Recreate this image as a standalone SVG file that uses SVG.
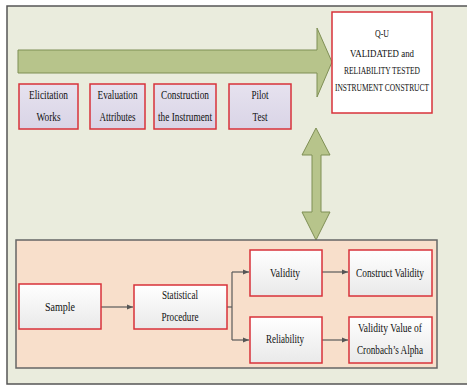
<svg xmlns="http://www.w3.org/2000/svg" width="467" height="386" viewBox="0 0 467 386">
<defs>
<linearGradient id="boxg" x1="0" y1="0" x2="0" y2="1">
<stop offset="0" stop-color="#ffffff"/>
<stop offset="1" stop-color="#e9e9e9"/>
</linearGradient>
<linearGradient id="lavg" x1="0" y1="0" x2="0" y2="1">
<stop offset="0" stop-color="#e6e2ef"/>
<stop offset="1" stop-color="#d9d4e6"/>
</linearGradient>
<marker id="ah" viewBox="0 0 6 6" refX="6" refY="3" markerWidth="6" markerHeight="6" markerUnits="userSpaceOnUse" orient="auto">
<path d="M0,0.5 L6,3 L0,5.5 Z" fill="#555"/>
</marker>
</defs>
<style>
text{font-family:"Liberation Serif","Times New Roman",serif;fill:#111;text-anchor:middle}
.lav{fill:url(#lavg);stroke:#d8323a;stroke-width:1.5}
.wb{fill:url(#boxg);stroke:#d8323a;stroke-width:1.5}
.big{fill:#b7c48b;stroke:#7f8f55;stroke-width:1}
.conn{fill:none;stroke:#5a5a5a;stroke-width:1.2}
.t10{font-size:10.5px}
.t12{font-size:13px}
</style>
<rect x="0" y="0" width="467" height="386" fill="#ffffff"/>
<rect x="7" y="6" width="470" height="378" fill="#eaecdd" stroke="#555" stroke-width="1.5"/>

<g id="big-arrow">
<path class="big" d="M18,50 L317,50 L317,28 L332,62 L317,97 L317,73 L18,73 Z"/>
</g>

<g id="qu-box">
<rect x="332" y="12" width="100" height="101" fill="#ffffff" stroke="#d8323a" stroke-width="1.5"/>
<text class="t10" x="382" y="37" textLength="14" lengthAdjust="spacingAndGlyphs">Q-U</text>
<text class="t10" x="382" y="57" textLength="64" lengthAdjust="spacingAndGlyphs">VALIDATED and</text>
<text class="t10" x="382" y="74" textLength="76" lengthAdjust="spacingAndGlyphs">RELIABILITY TESTED</text>
<text class="t10" x="382" y="91" textLength="94" lengthAdjust="spacingAndGlyphs">INSTRUMENT CONSTRUCT</text>
</g>

<g id="elicitation">
<rect class="lav" x="19" y="84" width="59" height="45"/>
<text class="t12" x="48.5" y="99" textLength="39" lengthAdjust="spacingAndGlyphs">Elicitation</text>
<text class="t12" x="48.5" y="121" textLength="24" lengthAdjust="spacingAndGlyphs">Works</text>
</g>
<g id="evaluation">
<rect class="lav" x="90" y="84" width="55" height="45"/>
<text class="t12" x="117.5" y="99" textLength="40" lengthAdjust="spacingAndGlyphs">Evaluation</text>
<text class="t12" x="117.5" y="121" textLength="36" lengthAdjust="spacingAndGlyphs">Attributes</text>
</g>
<g id="construction">
<rect class="lav" x="154" y="84" width="62" height="45"/>
<text class="t12" x="185" y="99" textLength="48" lengthAdjust="spacingAndGlyphs">Construction</text>
<text class="t12" x="185" y="121" textLength="54" lengthAdjust="spacingAndGlyphs">the Instrument</text>
</g>
<g id="pilot">
<rect class="lav" x="229" y="84" width="62" height="45"/>
<text class="t12" x="260" y="99" textLength="17" lengthAdjust="spacingAndGlyphs">Pilot</text>
<text class="t12" x="260" y="121" textLength="15" lengthAdjust="spacingAndGlyphs">Test</text>
</g>

<g id="double-arrow">
<path class="big" d="M316,128 L330,155 L321,155 L321,212 L330,212 L316,240 L302,212 L312,212 L312,155 L302,155 Z"/>
</g>

<g id="lower-panel">
<rect x="16" y="240" width="421" height="128" fill="#f8dfcb" stroke="#666" stroke-width="1.5"/>
</g>

<g id="connectors">
<path class="conn" d="M101,307 L133,307" marker-end="url(#ah)"/>
<path class="conn" d="M227,307 L232,307"/>
<path class="conn" d="M232,272 L232,340"/>
<path class="conn" d="M232,272 L249,272" marker-end="url(#ah)"/>
<path class="conn" d="M232,340 L249,340" marker-end="url(#ah)"/>
<path class="conn" d="M322,272 L348,272" marker-end="url(#ah)"/>
<path class="conn" d="M322,340 L348,340" marker-end="url(#ah)"/>
</g>

<g id="sample">
<rect class="wb" x="19" y="284" width="82" height="45"/>
<text class="t12" x="60" y="311" textLength="30" lengthAdjust="spacingAndGlyphs">Sample</text>
</g>
<g id="statistical">
<rect class="wb" x="134" y="285" width="93" height="44"/>
<text class="t12" x="180" y="299" textLength="36" lengthAdjust="spacingAndGlyphs">Statistical</text>
<text class="t12" x="180" y="321" textLength="37" lengthAdjust="spacingAndGlyphs">Procedure</text>
</g>
<g id="validity">
<rect class="wb" x="250" y="250" width="72" height="46"/>
<text class="t12" x="285" y="277" textLength="30" lengthAdjust="spacingAndGlyphs">Validity</text>
</g>
<g id="reliability">
<rect class="wb" x="250" y="317" width="72" height="46"/>
<text class="t12" x="285" y="343" textLength="38" lengthAdjust="spacingAndGlyphs">Reliability</text>
</g>
<g id="construct-validity">
<rect class="wb" x="349" y="250" width="83" height="46"/>
<text class="t12" x="390" y="277" textLength="68" lengthAdjust="spacingAndGlyphs">Construct Validity</text>
</g>
<g id="validity-value">
<rect class="wb" x="349" y="317" width="83" height="46"/>
<text class="t12" x="390" y="332" textLength="64" lengthAdjust="spacingAndGlyphs">Validity Value of</text>
<text class="t12" x="390" y="354" textLength="66" lengthAdjust="spacingAndGlyphs">Cronbach’s Alpha</text>
</g>
</svg>
